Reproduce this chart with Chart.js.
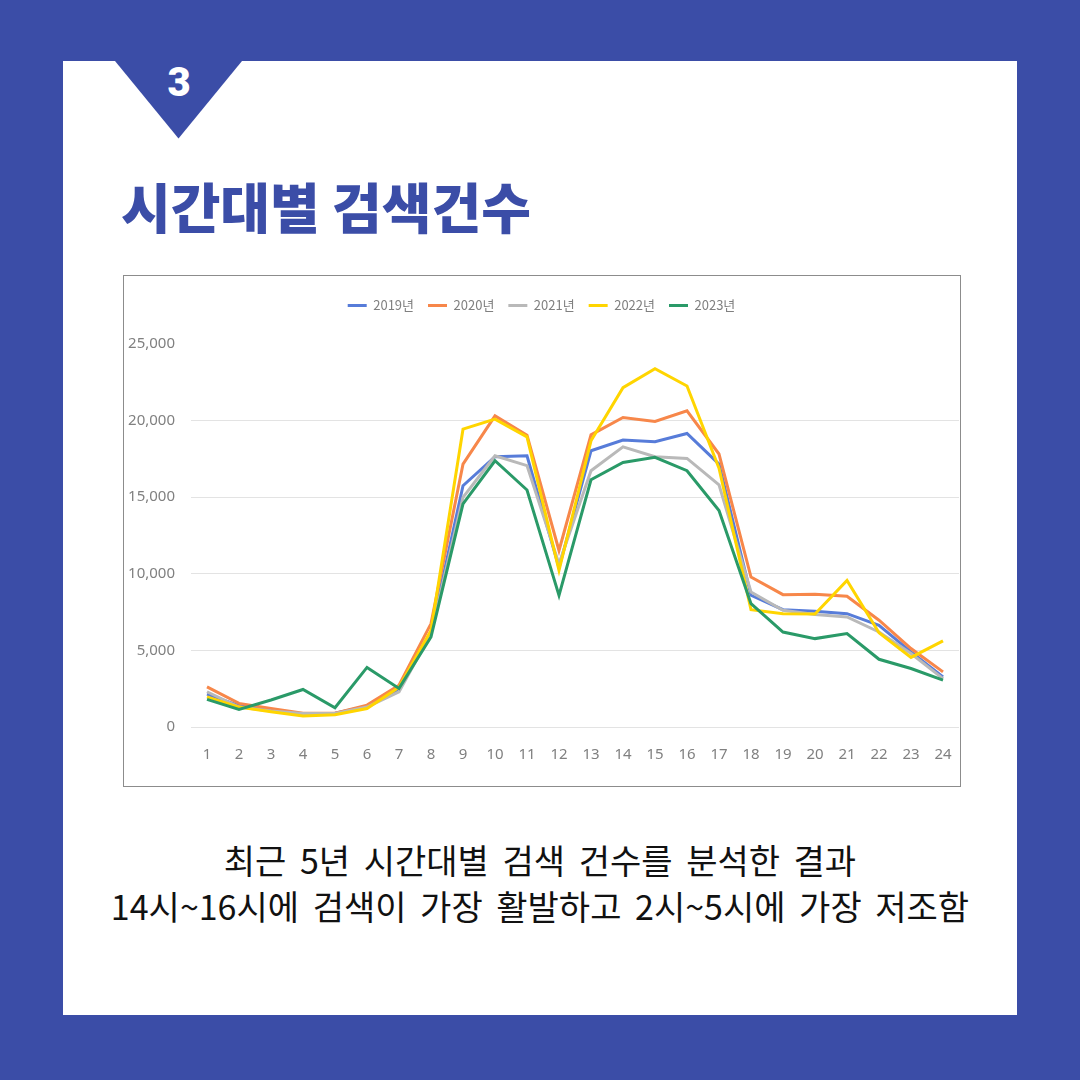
<!DOCTYPE html>
<html>
<head>
<meta charset="utf-8">
<script src="https://cdn.jsdelivr.net/npm/chart.js@4/dist/chart.umd.min.js"></script>
<style>
  html, body { margin: 0; padding: 0; }
  body { width: 1080px; height: 1080px; background: #3b4da7; position: relative; overflow: hidden; font-family: "Noto Sans CJK KR", "Noto Sans", sans-serif; }
  #panel { position: absolute; left: 63px; top: 61px; width: 954px; height: 954px; background: #ffffff; }
  #tri { position: absolute; left: 0; top: 0; }
  #num { position: absolute; left: 159px; top: 58px; width: 40px; text-align: center; color: #fff; font-family: "Roboto", sans-serif; font-weight: 900; font-size: 40px; line-height: 50px; }
  #title { position: absolute; left: 121px; top: 168px; color: #3b4da7; font-family: "Noto Sans CJK KR", sans-serif; font-weight: 900; font-size: 54px; line-height: 76px; white-space: nowrap; }
  #box { position: absolute; left: 123px; top: 275px; width: 836px; height: 510px; border: 1px solid #8c8c8c; background: #fff; }
  #wrap { position: absolute; left: 124px; top: 276px; width: 836px; height: 510px; }
  #caption { position: absolute; left: 0; top: 837px; width: 1080px; text-align: center; color: #111; font-family: "Noto Sans CJK KR", sans-serif; font-size: 34px; line-height: 46px; word-spacing: 6px; }
</style>
</head>
<body>
<div id="panel"></div>
<svg id="tri" width="1080" height="200"><polygon points="115,61 242,61 178.5,138.5" fill="#3b4da7"/></svg>
<div id="num">3</div>
<div id="title">시간대별 검색건수</div>
<div id="box"></div>
<div id="wrap"><canvas id="c" width="836" height="510"></canvas></div>
<div id="caption">최근 5년 시간대별 검색 건수를 분석한 결과<br>14시~16시에 검색이 가장 활발하고 2시~5시에 가장 저조함</div>
<script>
const hours = ['1','2','3','4','5','6','7','8','9','10','11','12','13','14','15','16','17','18','19','20','21','22','23','24'];
const seriesNames = ['2019년','2020년','2021년','2022년','2023년'];
const y2019 = [2150,1400,1100,850,900,1350,2450,6200,15750,17640,17700,10400,18030,18730,18620,19160,17160,8600,7660,7550,7400,6640,4900,3270];
const y2020 = [2620,1540,1210,900,900,1430,2730,6750,17160,20310,19050,11520,19070,20200,19940,20640,17820,9790,8640,8660,8530,6970,5120,3600];
const y2021 = [2300,1300,1050,880,880,1300,2300,6100,14990,17700,17060,10650,16730,18290,17640,17530,15800,8810,7620,7340,7180,6200,4800,3160];
const y2022 = [1970,1300,1000,720,800,1210,2600,6300,19440,20100,18940,10220,18680,22150,23390,22260,16900,7660,7400,7370,9570,6150,4540,5620];
const y2023 = [1800,1150,1760,2450,1260,3890,2520,5880,14560,17380,15470,8590,16140,17270,17600,16730,14130,8050,6200,5770,6100,4420,3820,3060];
const yTicks = [0,5000,10000,15000,20000,25000];
const colors = ['#577cd9','#f7874a','#b9b9b9','#ffd500','#2a9a68'];
const values = [y2019,y2020,y2021,y2022,y2023];

const datasets = seriesNames.map((n,i)=>({
  label: n,
  data: values[i],
  borderColor: colors[i],
  backgroundColor: colors[i],
  borderWidth: 3,
  pointRadius: 0,
  pointHoverRadius: 0,
  tension: 0,
  fill: false,
  order: seriesNames.length - i
}));

const legendGap = {
  id: 'legendGap',
  beforeInit(chart) {
    const orig = chart.legend.fit;
    chart.legend.fit = function() { orig.bind(chart.legend)(); this.height += 22; };
  }
};

new Chart(document.getElementById('c'), {
  type: 'line',
  data: { labels: hours, datasets },
  options: {
    responsive: false,
    animation: false,
    layout: { padding: { top: 9, right: 1, left: 0, bottom: 0 } },
    plugins: {
      legend: {
        position: 'top',
        labels: {
          usePointStyle: true,
          pointStyle: 'line',
          pointStyleWidth: 19,
          boxHeight: 3,
          padding: 14,
          color: '#808080',
          font: { family: '"Noto Sans CJK KR", sans-serif', size: 13 },
          sort: (a, b) => a.datasetIndex - b.datasetIndex
        }
      },
      tooltip: { enabled: false }
    },
    scales: {
      x: {
        offset: true,
        grid: { display: false, drawTicks: true, tickLength: 19 },
        border: { display: false },
        ticks: { color: '#808080', padding: 0, font: { family: '"Noto Sans", sans-serif', size: 15 } },
        afterFit(s) { s.height = 59; }
      },
      y: {
        min: 0, max: 25000,
        afterBuildTicks(s) { s.ticks = yTicks.map(v => ({ value: v })); },
        grid: {
          drawTicks: false,
          color: ctx => (ctx.tick && ctx.tick.value === 25000) ? 'rgba(0,0,0,0)' : '#e3e3e3',
          lineWidth: 1
        },
        border: { display: false },
        ticks: {
          color: '#808080', padding: 16,
          font: { family: '"Noto Sans", sans-serif', size: 15 },
          callback: v => v.toLocaleString('en-US')
        },
        afterFit(s) { s.width = 67; }
      }
    }
  },
  plugins: [legendGap]
});
</script>
</body>
</html>
